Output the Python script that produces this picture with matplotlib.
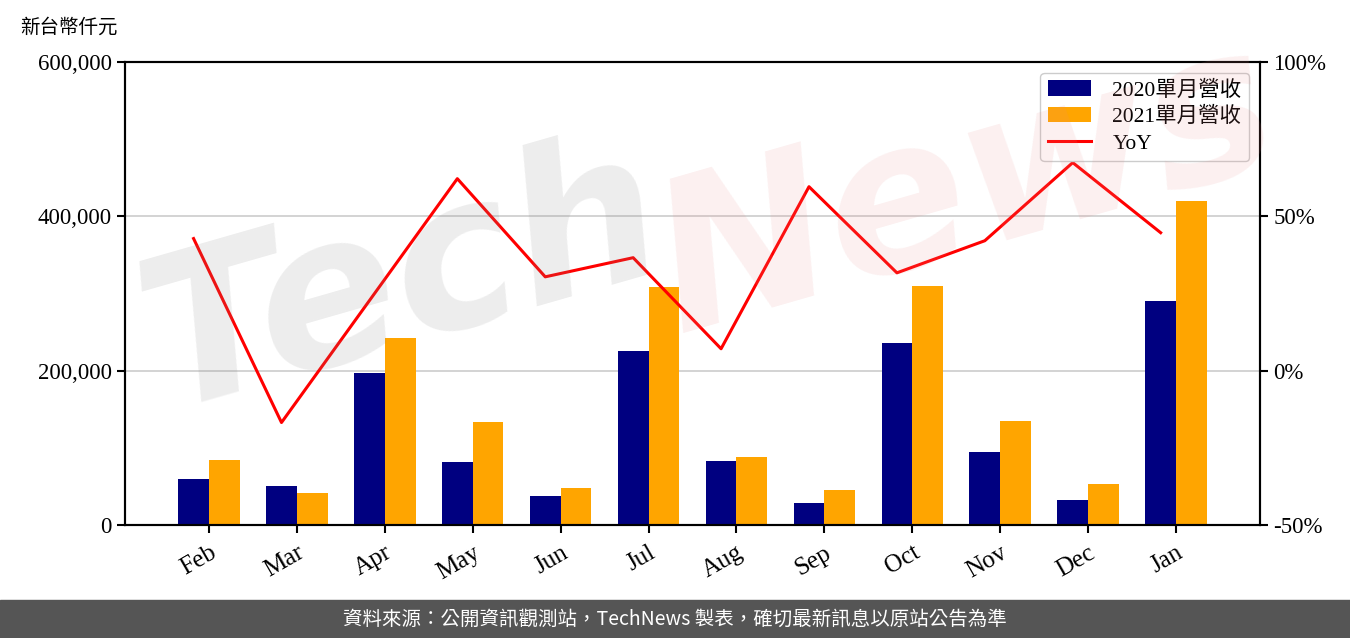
import numpy as np
import matplotlib
matplotlib.use("Agg")
import matplotlib.pyplot as plt
from matplotlib.patches import Rectangle

plt.rcParams['font.family'] = ['Liberation Serif', 'Noto Sans CJK TC', 'DejaVu Sans']

months = ['Feb', 'Mar', 'Apr', 'May', 'Jun', 'Jul', 'Aug', 'Sep', 'Oct', 'Nov', 'Dec', 'Jan']
rev_2020 = [59600, 50500, 197000, 81600, 37600, 225500, 83000, 28500, 236000, 94600, 32400, 290000]
rev_2021 = [84200, 41500, 242000, 133500, 48000, 308400, 88000, 45400, 309700, 134800, 53100, 420000]
yoy = [42.8, -16.8, 22.7, 62.2, 30.4, 36.6, 7.1, 59.6, 31.7, 42.1, 67.4, 44.7]

y_ticks = [0, 200000, 400000, 600000]
y_labels = ['0', '200,000', '400,000', '600,000']
r_ticks = [-50, 0, 50, 100]
r_labels = ['-50%', '0%', '50%', '100%']

fig = plt.figure(figsize=(13.5, 6.38), dpi=100)
ax = fig.add_axes([125/1350, 1 - 525/638, (1260-125)/1350, (525-62)/638])
ax2 = ax.twinx()

x = np.arange(len(months))
w = 0.35
ax.bar(x - w/2, rev_2020, w, color='#000080', label='2020單月營收', zorder=2)
ax.bar(x + w/2, rev_2021, w, color='#FFA500', label='2021單月營收', zorder=2)
ln, = ax2.plot(x - w/2, yoy, color='red', lw=2.2, label='YoY')

ax.set_xlim(-0.955, 11.955)
ax.set_ylim(0, 600000)
ax.set_yticks(y_ticks)
ax.set_yticklabels(y_labels, fontsize=16.5)
ax.set_xticks(x)
ax.set_xticklabels(months, rotation=30, ha='right', rotation_mode='anchor', fontsize=18)
ax.grid(axis='y', color='#cccccc', lw=1.2, zorder=0)
ax.set_axisbelow(True)

ax2.set_ylim(-50, 100)
ax2.set_yticks(r_ticks)
ax2.set_yticklabels(r_labels, fontsize=16.5)

for a in (ax, ax2):
    for s in a.spines.values():
        s.set_linewidth(1.5)
    a.tick_params(width=1.5, length=6)
ax.tick_params(axis='x', pad=6)

h1, l1 = ax.get_legend_handles_labels()
leg = ax2.legend(h1 + [ln], l1 + ['YoY'], loc='upper right', fontsize=15.5,
                 framealpha=1, edgecolor='#cccccc', borderpad=0.35,
                 handlelength=2.0, handletextpad=1.0, labelspacing=0.3)

# watermark
fig.text(0.09, 0.36, 'Tech', fontsize=150, fontweight='bold', fontstyle='italic',
         family='DejaVu Sans', color='#888888', alpha=0.15, rotation=16, zorder=5)
fig.text(0.47, 0.48, 'News', fontsize=150, fontweight='bold', fontstyle='italic',
         family='DejaVu Sans', color='#e88a8a', alpha=0.13, rotation=16, zorder=5)

fig.text(20/1350, 1 - 27/638, '新台幣仟元', fontsize=14, va='center', ha='left',
         family=['Noto Sans CJK TC'])

fig.patches.append(Rectangle((0, 0), 1, 38/638, transform=fig.transFigure,
                             color='#555555', zorder=0))
fig.text(0.5, 19/638, '資料來源：公開資訊觀測站，TechNews 製表，確切最新訊息以原站公告為準',
         color='white', fontsize=14, ha='center', va='center',
         family=['Noto Sans CJK TC', 'DejaVu Sans'])

fig.savefig('out.png', dpi=100)
